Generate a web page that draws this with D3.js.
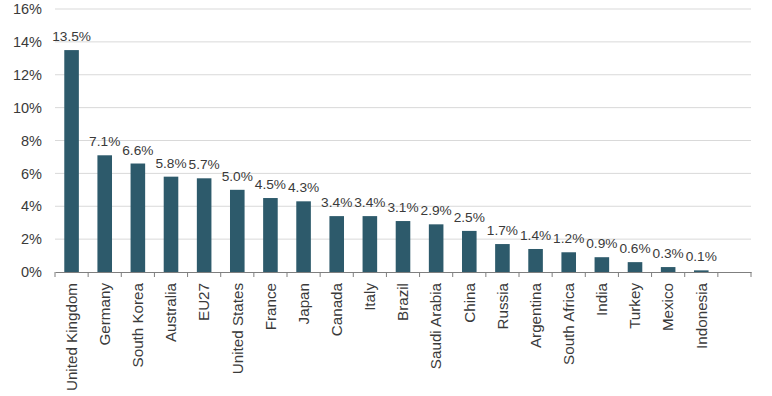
<!DOCTYPE html>
<html>
<head>
<meta charset="utf-8">
<script src="https://cdn.jsdelivr.net/npm/d3@7"></script>
<style>
  body { margin: 0; background: #fff; }
  svg text { font-family: "Liberation Sans", Arial, sans-serif; fill: #3a3a3a; }
</style>
</head>
<body>
<div id="chart"></div>
<script>
// Datos
const paises = ["United Kingdom", "Germany", "South Korea", "Australia", "EU27", "United States",
  "France", "Japan", "Canada", "Italy", "Brazil", "Saudi Arabia", "China", "Russia",
  "Argentina", "South Africa", "India", "Turkey", "Mexico", "Indonesia"];
const valores = [13.5, 7.1, 6.6, 5.8, 5.7, 5.0, 4.5, 4.3, 3.4, 3.4, 3.1, 2.9, 2.5, 1.7, 1.4, 1.2, 0.9, 0.6, 0.3, 0.1];
const yTicks = [0, 2, 4, 6, 8, 10, 12, 14, 16];

const width = 772, height = 396;
const margin = {top: 9, right: 21, bottom: 124, left: 55};

const svg = d3.select("#chart").append("svg")
  .attr("width", width).attr("height", height);

// una categoría vacía al final, como en el original
const dominio = paises.concat([" "]);

const x = d3.scaleBand()
  .domain(dominio)
  .range([margin.left, width - margin.right])
  .paddingInner(0.56).paddingOuter(0.28);

const y = d3.scaleLinear()
  .domain([0, 16])
  .range([height - margin.bottom, margin.top]);

// rejilla
svg.append("g")
  .selectAll("line")
  .data(yTicks.filter(d => d > 0))
  .enter().append("line")
  .attr("x1", margin.left).attr("x2", width - margin.right)
  .attr("y1", d => y(d)).attr("y2", d => y(d))
  .attr("stroke", "#d9d9d9").attr("stroke-width", 1);

// eje y
const ejeY = svg.append("g")
  .attr("transform", `translate(${margin.left},0)`)
  .call(d3.axisLeft(y).tickValues(yTicks).tickFormat(d => d + "%").tickSize(0).tickPadding(13));
ejeY.select(".domain").remove();
ejeY.selectAll("text").attr("font-size", "14.5px");

// barras
svg.selectAll("rect.barra")
  .data(valores)
  .enter().append("rect")
  .attr("class", "barra")
  .attr("x", (d, i) => x(paises[i]))
  .attr("y", d => y(d))
  .attr("width", x.bandwidth())
  .attr("height", d => y(0) - y(d))
  .attr("fill", "#2d5a6b");

// etiquetas de valor
svg.selectAll("text.valor")
  .data(valores)
  .enter().append("text")
  .attr("class", "valor")
  .attr("x", (d, i) => x(paises[i]) + x.bandwidth() / 2)
  .attr("y", d => y(d) - 9)
  .attr("text-anchor", "middle")
  .attr("font-size", "13.7px")
  .text(d => d.toFixed(1) + "%");

// eje x
const ejeX = svg.append("g")
  .attr("transform", `translate(0,${y(0)})`)
  .call(d3.axisBottom(x).tickSize(0).tickPadding(0));
ejeX.select(".domain").attr("stroke", "#7f7f7f");
ejeX.selectAll("text")
  .attr("font-size", "15.2px")
  .attr("transform", "rotate(-90)")
  .attr("x", -11).attr("y", 0).attr("dy", "0.35em")
  .style("text-anchor", "end");

// marcas en los bordes de cada categoría
const paso = x.step();
const bordes = dominio.map((d, i) => margin.left + i * paso).concat([width - margin.right]);
svg.append("g")
  .selectAll("line")
  .data(bordes)
  .enter().append("line")
  .attr("x1", d => d).attr("x2", d => d)
  .attr("y1", y(0)).attr("y2", y(0) + 5)
  .attr("stroke", "#7f7f7f");
</script>
</body>
</html>
